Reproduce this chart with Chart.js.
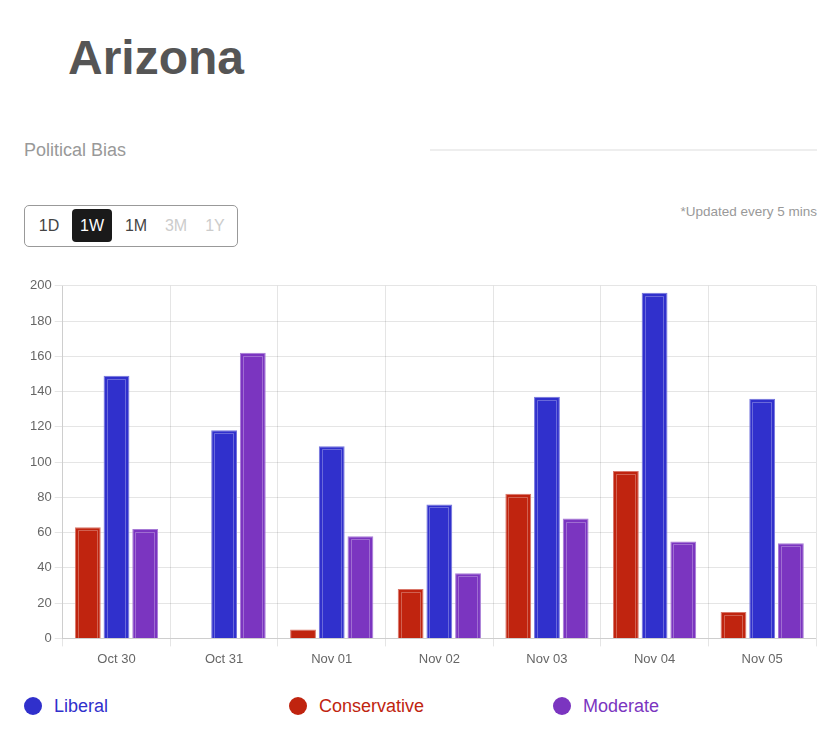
<!DOCTYPE html>
<html>
<head>
<meta charset="utf-8">
<script src="https://cdn.jsdelivr.net/npm/chart.js@4.4.1/dist/chart.umd.min.js"></script>
<style>
  body { margin:0; background:#fff; font-family: Arial, "Liberation Sans", sans-serif; }
  .wrap { position:relative; width:837px; height:756px; }
  h1 { position:absolute; left:68px; top:28px; margin:0; font-size:48px; font-weight:bold; color:#555; line-height:60px; }
  .sub { position:absolute; left:24px; top:139px; font-size:18px; color:#999; line-height:22px; }
  .rule { position:absolute; left:430px; top:149px; width:387px; height:2px; background:#eee; }
  .range { position:absolute; left:24px; top:205px; width:212px; height:40px; border:1px solid #999; border-radius:5px; }
  .range span { position:absolute; top:3px; height:33px; line-height:33px; text-align:center; font-size:16px; color:#444; border-radius:4px; }
  .range span.on { background:#1a1a1a; color:#fff; }
  .range span.off { color:#ccc; }
  .upd { position:absolute; right:20px; top:203px; font-size:13.5px; color:#999; line-height:18px; }
  .chartbox { position:absolute; left:24px; top:275px; width:793px; height:402px; }
  .legend { position:absolute; left:0; top:694px; width:837px; height:24px; }
  .legend div { position:absolute; top:0; height:24px; line-height:24px; font-size:18px; }
  .legend i { position:absolute; left:0; top:3px; width:18px; height:18px; border-radius:50%; }
  .legend b { font-weight:normal; position:absolute; left:30px; top:0; white-space:nowrap; }
</style>
</head>
<body>
<div class="wrap">
  <h1>Arizona</h1>
  <div class="sub">Political Bias</div>
  <div class="rule"></div>
  <div class="range" id="range"></div>
  <div class="upd">*Updated every 5 mins</div>
  <div class="chartbox"><canvas id="biasChart"></canvas></div>
  <div class="legend" id="legend"></div>
</div>
<script>
const labels = ["Oct 30","Oct 31","Nov 01","Nov 02","Nov 03","Nov 04","Nov 05"];
const conservative = [63, 0, 5, 28, 82, 95, 15];
const liberal = [149, 118, 109, 76, 137, 196, 136];
const moderate = [62, 162, 58, 37, 68, 55, 54];
const yTicks = [0,20,40,60,80,100,120,140,160,180,200];

const rangeBtns = ["1D","1W","1M","3M","1Y"];
const rangeLeft = [4, 47, 91, 131, 170];
const rangeW = [40, 40, 40, 40, 40];
const rangeState = ["", "on", "", "off", "off"];

const colRed = "#c0240f", colBlue = "#3030cc", colPurple = "#7b35c0";

// range buttons
const rg = document.getElementById("range");
rangeBtns.forEach((t,i)=>{
  const s = document.createElement("span");
  s.textContent = t;
  s.className = rangeState[i];
  s.style.left = rangeLeft[i]+"px";
  s.style.width = rangeW[i]+"px";
  rg.appendChild(s);
});

// legend (html)
const legendItems = [["Liberal", colBlue, 24], ["Conservative", colRed, 289], ["Moderate", colPurple, 553]];
const lg = document.getElementById("legend");
legendItems.forEach(([name,c,x])=>{
  const d = document.createElement("div");
  d.style.left = x+"px";
  d.innerHTML = `<i style="background:${c}"></i><b style="color:${c}">${name}</b>`;
  lg.appendChild(d);
});

// faint inner outline on each bar
const innerLine = {
  id:"innerLine",
  afterDatasetsDraw(chart){
    const ctx = chart.ctx;
    ctx.save();
    ctx.strokeStyle = "rgba(255,255,255,0.28)";
    ctx.lineWidth = 1;
    chart.data.datasets.forEach((ds,i)=>{
      chart.getDatasetMeta(i).data.forEach(bar=>{
        const h = bar.base - bar.y;
        if (h < 9) return;
        const l = Math.round(bar.x - bar.width/2) + 3.5, r = Math.round(bar.x + bar.width/2) - 3.5, t = Math.round(bar.y) + 3.5;
        ctx.beginPath();
        ctx.moveTo(l, bar.base); ctx.lineTo(l, t); ctx.lineTo(r, t); ctx.lineTo(r, bar.base);
        ctx.stroke();
      });
    });
    ctx.restore();
  }
};

new Chart(document.getElementById("biasChart"), {
  type:"bar",
  data:{
    labels: labels,
    datasets:[
      { label:"Conservative", data:conservative, backgroundColor:colRed, borderColor:"#d9776a", borderWidth:1 },
      { label:"Liberal", data:liberal, backgroundColor:colBlue, borderColor:"#7474dc", borderWidth:1 },
      { label:"Moderate", data:moderate, backgroundColor:colPurple, borderColor:"#a77ad6", borderWidth:1 }
    ]
  },
  options:{
    responsive:true,
    maintainAspectRatio:false,
    animation:false,
    layout:{ padding:{ left:3, right:1, top:0, bottom:5 } },
    plugins:{ legend:{ display:false }, tooltip:{ enabled:false } },
    scales:{
      x:{
        grid:{ offset:true, color:"rgba(0,0,0,0.1)" },
        ticks:{ color:"#666", font:{ size:13 }, padding:5 }
      },
      y:{
        min:0, max:200,
        afterBuildTicks(axis){ axis.ticks = yTicks.map(v=>({value:v})); },
        grid:{ color:"rgba(0,0,0,0.1)" },
        ticks:{ color:"#666", font:{ size:13 } }
      }
    }
  },
  plugins:[innerLine]
});
</script>
</body>
</html>
